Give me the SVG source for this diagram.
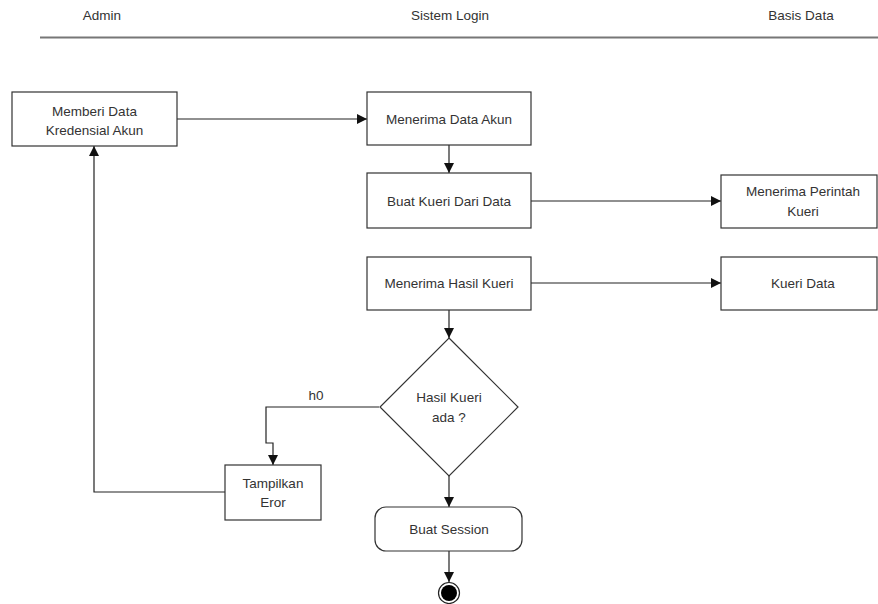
<svg xmlns="http://www.w3.org/2000/svg" width="878" height="604" viewBox="0 0 878 604">
  <defs>
    <marker id="arrow" viewBox="0 0 10 10" refX="10" refY="5" markerWidth="10" markerHeight="10" markerUnits="userSpaceOnUse" orient="auto">
      <path d="M0,0 L10,5 L0,10 Z" fill="#111"/>
    </marker>
  </defs>
  <style>
    text { font-family: "Liberation Sans", Arial, sans-serif; font-size: 13.5px; fill: #333; text-anchor: middle; }
    .box { fill: #fff; stroke: #333; stroke-width: 1.2; }
    .edge { fill: none; stroke: #222; stroke-width: 1.2; marker-end: url(#arrow); }
  </style>
  <rect width="878" height="604" fill="#fff"/>

  <!-- swimlane header -->
  <g id="lanes">
    <text x="102" y="20">Admin</text>
    <text x="450" y="20">Sistem Login</text>
    <text x="801" y="20">Basis Data</text>
    <line x1="40" y1="37.5" x2="878" y2="37.5" stroke="#777" stroke-width="2"/>
  </g>

  <!-- connectors -->
  <g id="connectors">
    <line class="edge" x1="177" y1="119" x2="367" y2="119"/>
    <line class="edge" x1="449" y1="145" x2="449" y2="173"/>
    <line class="edge" x1="531" y1="201" x2="721" y2="201"/>
    <line class="edge" x1="531" y1="283" x2="721" y2="283"/>
    <line class="edge" x1="449" y1="310" x2="449" y2="338"/>
    <polyline class="edge" points="379,407 266,407 266,443 273,443 273,465"/>
    <text x="316" y="400">h0</text>
    <polyline class="edge" points="225,492 94,492 94,146"/>
    <line class="edge" x1="449" y1="476" x2="449" y2="507"/>
    <line class="edge" x1="449" y1="551" x2="449" y2="582"/>
  </g>

  <g id="memberi-data">
    <rect class="box" x="12" y="92" width="165" height="54"/>
    <text x="94.5" y="116">Memberi Data</text>
    <text x="94.5" y="135">Kredensial Akun</text>
  </g>

  <g id="menerima-data-akun">
    <rect class="box" x="367" y="92" width="164" height="53"/>
    <text x="449" y="124">Menerima Data Akun</text>
  </g>

  <g id="buat-kueri">
    <rect class="box" x="367" y="173" width="164" height="55"/>
    <text x="449" y="206">Buat Kueri Dari Data</text>
  </g>

  <g id="menerima-perintah">
    <rect class="box" x="721" y="175" width="156" height="53"/>
    <text x="803" y="196">Menerima Perintah</text>
    <text x="803" y="216">Kueri</text>
  </g>

  <g id="menerima-hasil">
    <rect class="box" x="367" y="257" width="164" height="53"/>
    <text x="449" y="288">Menerima Hasil Kueri</text>
  </g>

  <g id="kueri-data">
    <rect class="box" x="721" y="257" width="156" height="53"/>
    <text x="803" y="288">Kueri Data</text>
  </g>

  <g id="hasil-kueri-ada">
    <polygon class="box" points="449,338 518,407 449,476 380,407"/>
    <text x="449" y="402">Hasil Kueri</text>
    <text x="449" y="422">ada ?</text>
  </g>

  <g id="tampilkan-eror">
    <rect class="box" x="225" y="465" width="96" height="55"/>
    <text x="273" y="488">Tampilkan</text>
    <text x="273" y="507">Eror</text>
  </g>

  <g id="buat-session">
    <rect class="box" x="375" y="507" width="147" height="44" rx="11" ry="11"/>
    <text x="449" y="534">Buat Session</text>
  </g>

  <g id="end">
    <circle cx="449" cy="593" r="10.5" fill="#fff" stroke="#222" stroke-width="1.2"/>
    <circle cx="449" cy="593" r="8" fill="#000"/>
  </g>
</svg>
